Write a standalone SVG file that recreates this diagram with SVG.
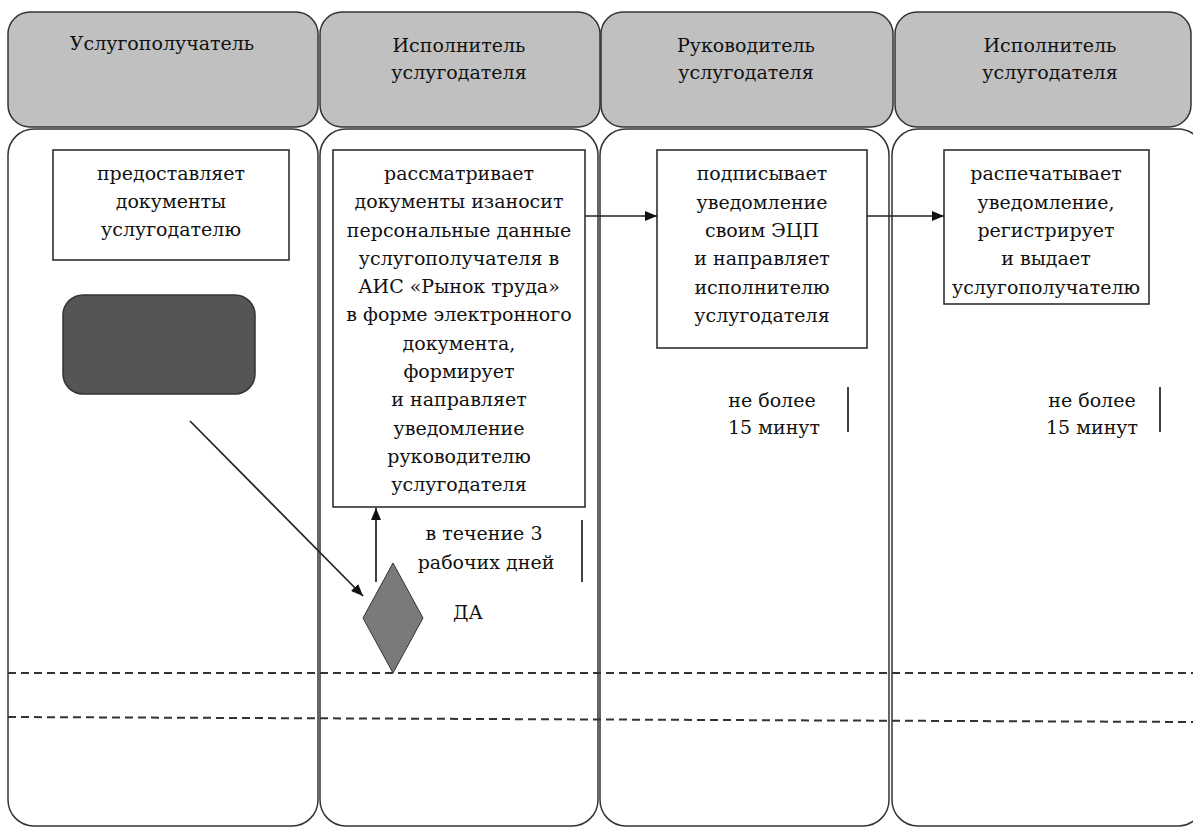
<svg xmlns="http://www.w3.org/2000/svg" width="1193" height="830" viewBox="0 0 1193 830">
<defs>
<style>
.hdr{fill:#c0c0c0;stroke:#333;stroke-width:1.5}
.lane{fill:#fff;stroke:#333;stroke-width:1.5}
.box{fill:#fff;stroke:#222;stroke-width:1.5}
.t{font-family:"DejaVu Serif","Liberation Serif",serif;font-size:19px;fill:#111;text-anchor:middle}
.c{stroke:#222;stroke-width:1.7;fill:none}
.d{stroke:#333;stroke-width:2;stroke-dasharray:8 5;fill:none}
</style>
<marker id="ah" viewBox="0 0 12 10" refX="12" refY="5" markerWidth="12" markerHeight="10" markerUnits="userSpaceOnUse" orient="auto">
<path d="M0,0 L12,5 L0,10 z" fill="#111"/>
</marker>
</defs>
<rect width="1193" height="830" fill="#fff"/>
<g id="lanes">
<rect class="hdr" x="8" y="12" width="310" height="115" rx="22"/>
<rect class="hdr" x="320" y="12" width="280" height="115" rx="22"/>
<rect class="hdr" x="601" y="12" width="292" height="115" rx="22"/>
<rect class="hdr" x="895" y="12" width="296" height="115" rx="22"/>
<rect class="lane" x="8" y="129" width="310" height="697" rx="26"/>
<rect class="lane" x="320" y="129" width="278" height="697" rx="26"/>
<rect class="lane" x="600" y="129" width="289" height="697" rx="26"/>
<rect class="lane" x="892" y="129" width="312" height="697" rx="26"/>
</g>
<g id="headers">
<text class="t" x="162" y="50">Услугополучатель</text>
<text class="t" x="459" y="52">Исполнитель</text>
<text class="t" x="459" y="79">услугодателя</text>
<text class="t" x="746" y="52">Руководитель</text>
<text class="t" x="746" y="79">услугодателя</text>
<text class="t" x="1050" y="52">Исполнитель</text>
<text class="t" x="1050" y="79">услугодателя</text>
</g>
<g id="separators">
<line class="d" x1="8" y1="673" x2="1193" y2="673"/>
<line class="d" x1="8" y1="717" x2="1193" y2="722"/>
</g>
<g id="nodeA">
<rect class="box" x="53" y="150" width="236" height="110"/>
<text class="t" x="171" y="180">предоставляет</text>
<text class="t" x="171" y="208">документы</text>
<text class="t" x="171" y="236">услугодателю</text>
</g>
<g id="start">
<rect x="63" y="295" width="192" height="99" rx="20" fill="#555" stroke="#333" stroke-width="1.5"/>
</g>
<g id="nodeB">
<rect class="box" x="333" y="150" width="252" height="357"/>
<text class="t" x="459" y="180">рассматривает</text>
<text class="t" x="459" y="208">документы изаносит</text>
<text class="t" x="459" y="237">персональные данные</text>
<text class="t" x="459" y="265">услугополучателя  в</text>
<text class="t" x="459" y="293">АИС «Рынок труда»</text>
<text class="t" x="459" y="321">в форме электронного</text>
<text class="t" x="459" y="350">документа,</text>
<text class="t" x="459" y="378">формирует</text>
<text class="t" x="459" y="406">и направляет</text>
<text class="t" x="459" y="435">уведомление</text>
<text class="t" x="459" y="463">руководителю</text>
<text class="t" x="459" y="491">услугодателя</text>
</g>
<g id="nodeC">
<rect class="box" x="657" y="150" width="210" height="198"/>
<text class="t" x="762" y="180">подписывает</text>
<text class="t" x="762" y="209">уведомление</text>
<text class="t" x="762" y="237">своим ЭЦП</text>
<text class="t" x="762" y="265">и направляет</text>
<text class="t" x="762" y="294">исполнителю</text>
<text class="t" x="762" y="322">услугодателя</text>
</g>
<g id="nodeD">
<rect class="box" x="944" y="150" width="205" height="154"/>
<text class="t" x="1046" y="180">распечатывает</text>
<text class="t" x="1046" y="209">уведомление,</text>
<text class="t" x="1046" y="237">регистрирует</text>
<text class="t" x="1046" y="265">и выдает</text>
<text class="t" x="1046" y="294">услугополучателю</text>
</g>
<g id="decision">
<polygon points="393,563 423,618 393,673 363,618" fill="#7a7a7a" stroke="#333" stroke-width="1"/>
<text class="t" x="468" y="619">ДА</text>
</g>
<g id="notes">
<text class="t" x="484" y="540">в течение 3</text>
<text class="t" x="486" y="569">рабочих дней</text>
<line class="c" x1="582" y1="520" x2="582" y2="582"/>
<text class="t" x="772" y="407">не более</text>
<text class="t" x="774" y="434">15 минут</text>
<line class="c" x1="848" y1="387" x2="848" y2="432"/>
<text class="t" x="1092" y="407">не более</text>
<text class="t" x="1092" y="434">15 минут</text>
<line class="c" x1="1160" y1="387" x2="1160" y2="432"/>
</g>
<g id="connectors">
<line class="c" x1="190" y1="421" x2="363" y2="596" marker-end="url(#ah)"/>
<line class="c" x1="376" y1="582" x2="376" y2="508" marker-end="url(#ah)"/>
<line class="c" x1="585" y1="216" x2="657" y2="216" marker-end="url(#ah)"/>
<line class="c" x1="867" y1="216" x2="944" y2="216" marker-end="url(#ah)"/>
</g>
</svg>
